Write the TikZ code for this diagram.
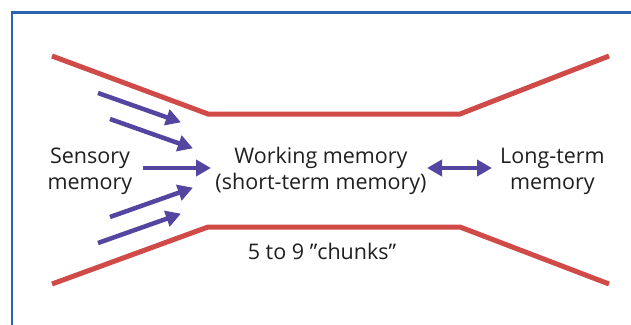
\documentclass[tikz,border=0pt]{standalone}
\usepackage{fontspec}
\setmainfont{Open Sans}
\usetikzlibrary{arrows.meta}
\definecolor{redline}{HTML}{D04A48}
\definecolor{purplearrow}{HTML}{5446A0}
\definecolor{framecol}{HTML}{2A64B0}
\tikzset{
  funnel/.style={draw=redline, line width=5pt, line join=miter},
  flow/.style={draw=purplearrow, line width=4.5pt, -{Triangle[length=15pt,width=16pt]}, shorten >=-1pt},
  both/.style={draw=purplearrow, line width=4.5pt, {Triangle[length=15pt,width=16pt]}-{Triangle[length=15pt,width=16pt]}},
  lbl/.style={align=center, font=\fontsize{21.5}{26}\selectfont, text=black!88, inner sep=0pt},
}
\begin{document}
\begin{tikzpicture}[x=1pt,y=-1pt]
\useasboundingbox (0,0) rectangle (631,324);
\draw[framecol, line width=2.2pt] (12,340) -- (12,12.5) -- (640,12.5);
% funnel
\coordinate (t1) at (52,56);
\coordinate (t2) at (208,114);
\coordinate (t3) at (460,114);
\coordinate (t4) at (609,56);
\coordinate (b1) at (52,284);
\coordinate (b2) at (208,227);
\coordinate (b3) at (460,227);
\coordinate (b4) at (609,284);
\draw[funnel] (t1) -- (t2) -- (t3) -- (t4);
\draw[funnel] (b1) -- (b2) -- (b3) -- (b4);
% labels
\node[lbl] (sens) at (90,171) {Sensory\\memory};
\node[lbl] (work) at (321,171) {Working memory\\(short-term memory)};
\node[lbl, anchor=west] (long) at (500,171) {Long-term\\memory};
\node[lbl] (chunks) at (322,251) {5 to 9 \textquotedblright chunks\textquotedblright};
% arrows
\coordinate (a1s) at (98,93);  \coordinate (a1e) at (180,122);
\coordinate (a2s) at (110,119); \coordinate (a2e) at (192,148);
\coordinate (a3s) at (143,168); \coordinate (a3e) at (210,168);
\coordinate (a4s) at (110,217); \coordinate (a4e) at (192,188);
\coordinate (a5s) at (98,243);  \coordinate (a5e) at (180,214);
\draw[flow] (a1s) -- (a1e);
\draw[flow] (a2s) -- (a2e);
\draw[flow] (a3s) -- (a3e);
\draw[flow] (a4s) -- (a4e);
\draw[flow] (a5s) -- (a5e);
\coordinate (d1) at (427,168);
\coordinate (d2) at (492,168);
\draw[both] (d1) -- (d2);
\end{tikzpicture}
\end{document}
